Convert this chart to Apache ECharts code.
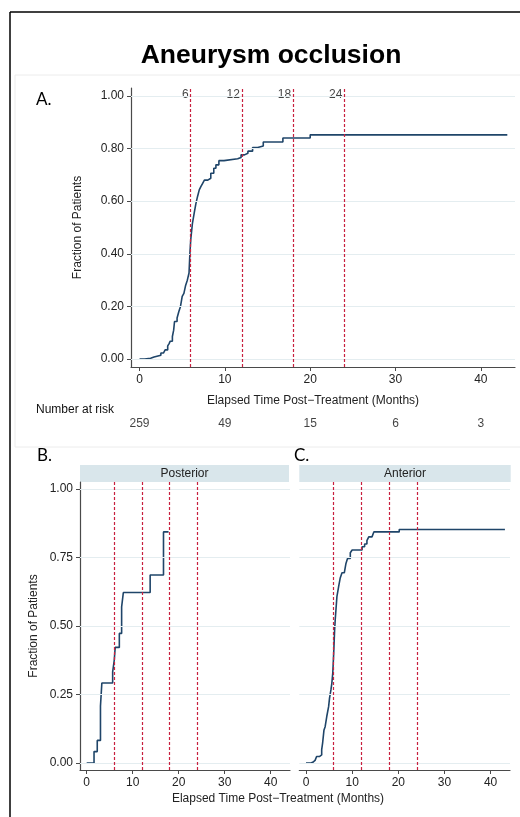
<!DOCTYPE html>
<html>
<head>
<meta charset="utf-8">
<title>Aneurysm occlusion</title>
<script src="https://cdn.jsdelivr.net/npm/echarts@6/dist/echarts.min.js"></script>
<style>
    html, body { margin: 0; padding: 0; background: #fff; }
    #chart { width: 520px; height: 817px; }
</style>
</head>
<body>
<div id="chart"></div>
<script>
    // time cut-offs (months) drawn as dashed lines
    const cutoffs = [6, 12, 18, 24];
    const xTicks = [0, 10, 20, 30, 40];
    const yTicksA = [0, 0.2, 0.4, 0.6, 0.8, 1];
    const yTicksB = [0, 0.25, 0.5, 0.75, 1];

    // number at risk under panel A
    const riskTimes = [0, 10, 20, 30, 40];
    const riskCounts = [259, 49, 15, 6, 3];

    // cumulative fraction occluded, [month, fraction] - all aneurysms
    const allCurve = [
        [0, 0], [0.6, 0.003], [1.3, 0.008], [1.7, 0.015], [2.5, 0.023], [2.8, 0.03],
        [3.0, 0.035], [3.3, 0.05], [3.45, 0.058], [3.6, 0.068], [3.85, 0.086], [4.0, 0.11],
        [4.1, 0.143], [4.4, 0.156], [4.6, 0.18], [4.8, 0.2], [5.0, 0.238], [5.2, 0.25],
        [5.4, 0.28], [5.6, 0.30], [5.8, 0.327], [5.9, 0.40], [6.0, 0.453], [6.2, 0.516],
        [6.4, 0.554], [6.6, 0.59], [6.8, 0.618], [7.0, 0.643], [7.2, 0.656], [7.4, 0.668],
        [7.6, 0.68], [8.0, 0.687], [8.35, 0.706], [8.7, 0.725], [8.95, 0.738], [9.3, 0.754],
        [9.9, 0.761], [11.5, 0.766], [11.9, 0.776], [12.3, 0.782], [12.7, 0.79], [13.25, 0.804],
        [13.85, 0.81], [14.5, 0.825], [16.8, 0.840], [20.0, 0.852], [43.1, 0.852]
    ];

    // posterior circulation
    const posteriorCurve = [
        [0, 0], [1.6, 0.042], [2.3, 0.083], [3.0, 0.208], [3.3, 0.292], [5.65, 0.333],
        [6.0, 0.376], [6.2, 0.422], [7.1, 0.473], [7.6, 0.57], [7.97, 0.622], [13.8, 0.686],
        [16.7, 0.843], [17.8, 0.843]
    ];

    // anterior circulation
    const anteriorCurve = [
        [0, 0], [0.87, 0.003], [1.46, 0.01], [1.97, 0.015], [2.3, 0.024], [2.9, 0.03],
        [3.4, 0.049], [3.6, 0.073], [3.9, 0.121], [4.15, 0.133], [4.5, 0.17], [4.9, 0.206],
        [5.1, 0.237], [5.4, 0.267], [5.6, 0.291], [5.8, 0.328], [6.0, 0.40], [6.2, 0.485],
        [6.33, 0.522], [6.7, 0.607], [7.06, 0.643], [7.4, 0.674], [7.8, 0.694], [8.3, 0.698],
        [8.66, 0.728], [9.0, 0.746], [9.6, 0.767], [10.0, 0.777], [12.15, 0.789], [12.7, 0.799],
        [13.2, 0.811], [13.6, 0.825], [14.3, 0.831], [14.7, 0.843], [20.2, 0.852], [43.1, 0.852]
    ];

    const FONT = 'Liberation Sans';
    const LINE = '#1f4569';
    const DASH = '#c8203f';
    const AXIS = '#4a4a4a';
    const GRIDLINE = '#e4edf0';

    function xAxisOf(gridIndex, min, max, opts) {
        return Object.assign({
            type: 'value', gridIndex: gridIndex, min: min, max: max,
            axisLine: {show: true, onZero: false, lineStyle: {color: AXIS, width: 1.2}},
            axisTick: {show: true, length: 4, customValues: xTicks, lineStyle: {color: AXIS}},
            axisLabel: {show: true, customValues: xTicks, color: '#222', fontFamily: FONT, fontSize: 12, margin: 7},
            splitLine: {show: false}
        }, opts || {});
    }

    function yAxisOf(gridIndex, min, max, ticks, digits, opts) {
        return Object.assign({
            type: 'value', gridIndex: gridIndex, min: min, max: max,
            axisLine: {show: true, onZero: false, lineStyle: {color: AXIS, width: 1.2}},
            axisTick: {show: true, length: 4, customValues: ticks, lineStyle: {color: AXIS}},
            axisLabel: {
                show: true, customValues: ticks, color: '#222', fontFamily: FONT, fontSize: 12, margin: 7,
                formatter: v => v.toFixed(digits)
            },
            splitLine: {show: false}
        }, opts || {});
    }

    function curveSeries(data, axisIndex) {
        return {
            type: 'line', step: 'end', data: data, xAxisIndex: axisIndex, yAxisIndex: axisIndex,
            symbol: 'none', lineStyle: {color: LINE, width: 1.6}, z: 3,
            markLine: {
                silent: true, symbol: ['none', 'none'], label: {show: false},
                lineStyle: {color: DASH, width: 1.2, type: [3, 2]},
                data: cutoffs.map(c => ({xAxis: c}))
            }
        };
    }

    // horizontal background lines at the y ticks
    function gridLines(ticks, axisIndex) {
        return {
            type: 'line', data: [], xAxisIndex: axisIndex, yAxisIndex: axisIndex, z: 1,
            markLine: {
                silent: true, symbol: ['none', 'none'], label: {show: false},
                lineStyle: {color: GRIDLINE, width: 1, type: 'solid'},
                data: ticks.map(v => ({yAxis: v}))
            }
        };
    }

    const textStyle = (txt, size, weight, family) => ({
        text: txt, fill: '#000', font: (weight || 'normal') + ' ' + size + 'px "' + (family || FONT) + '"'
    });

    const chart = echarts.init(document.getElementById('chart'));
    const option = {
        animation: false,
        grid: [
            {left: 131, top: 88, width: 384, height: 279},
            {left: 80, top: 482, width: 210, height: 288},
            {left: 299.3, top: 482, width: 210.7, height: 288},
            {left: 131, top: 417, width: 384, height: 14}
        ],
        xAxis: [
            xAxisOf(0, -1, 44, {
                name: 'Elapsed Time Post\u2212Treatment (Months)', nameLocation: 'middle', nameGap: 28,
                nameTextStyle: {color: '#222', fontFamily: FONT, fontSize: 12, padding: [0, 20, 0, 0]}
            }),
            xAxisOf(1, -1.45, 44.2),
            xAxisOf(2, -1.45, 44.2),
            {type: 'value', gridIndex: 3, min: -1, max: 44, show: false}
        ],
        yAxis: [
            yAxisOf(0, -0.03, 1.03, yTicksA, 2, {
                name: 'Fraction of Patients', nameLocation: 'middle', nameGap: 47,
                nameTextStyle: {color: '#222', fontFamily: FONT, fontSize: 12}
            }),
            yAxisOf(1, -0.025, 1.025, yTicksB, 2, {
                name: 'Fraction of Patients', nameLocation: 'middle', nameGap: 40,
                nameTextStyle: {color: '#222', fontFamily: FONT, fontSize: 12}
            }),
            yAxisOf(2, -0.025, 1.025, yTicksB, 2, {
                axisLine: {show: false}, axisTick: {show: false}, axisLabel: {show: false}
            }),
            {type: 'value', gridIndex: 3, min: 0, max: 1, show: false}
        ],
        series: [
            gridLines(yTicksA, 0),
            gridLines(yTicksB, 1),
            gridLines(yTicksB, 2),
            curveSeries(allCurve, 0),
            curveSeries(posteriorCurve, 1),
            curveSeries(anteriorCurve, 2),
            // month labels above the dashed lines in panel A
            {
                type: 'scatter', xAxisIndex: 0, yAxisIndex: 0, symbolSize: 0,
                data: cutoffs.map(c => [c, 1.005]),
                label: {
                    show: true, position: 'left', distance: 2, formatter: p => p.data[0],
                    color: '#111', fontFamily: FONT, fontSize: 12
                }
            },
            // number at risk row
            {
                type: 'scatter', xAxisIndex: 3, yAxisIndex: 3, symbolSize: 0,
                data: riskTimes.map((t, i) => [t, 0.5, riskCounts[i]]),
                label: {
                    show: true, position: 'inside', formatter: p => p.data[2],
                    color: '#111', fontFamily: FONT, fontSize: 12
                }
            }
        ],
        graphic: [
            // outer frame
            {type: 'line', shape: {x1: 10, y1: 12, x2: 10, y2: 817}, style: {stroke: '#000', lineWidth: 1.5}},
            {type: 'line', shape: {x1: 10, y1: 12, x2: 520, y2: 12}, style: {stroke: '#000', lineWidth: 1.5}},
            // panel A box
            {type: 'rect', shape: {x: 15, y: 75, width: 520, height: 372}, style: {fill: 'none', stroke: '#ececec', lineWidth: 1}, z: -1},
            {type: 'text', x: 271, y: 56, style: Object.assign(textStyle('Aneurysm occlusion', 26.5, 'bold'), {textAlign: 'center', textVerticalAlign: 'middle'})},
            {type: 'text', x: 36, y: 100, style: Object.assign(textStyle('A.', 17, 'normal', 'Lato'), {textVerticalAlign: 'middle'})},
            {type: 'text', x: 36, y: 410, style: Object.assign(textStyle('Number at risk', 12), {fill: '#111', textVerticalAlign: 'middle'})},
            {type: 'text', x: 37, y: 456, style: Object.assign(textStyle('B.', 17, 'normal', 'Lato'), {textVerticalAlign: 'middle'})},
            {type: 'text', x: 294, y: 456, style: Object.assign(textStyle('C.', 17, 'normal', 'Lato'), {textVerticalAlign: 'middle'})},
            // facet strips
            {type: 'rect', shape: {x: 80, y: 465, width: 209, height: 17}, style: {fill: '#d9e6eb'}},
            {type: 'rect', shape: {x: 299.3, y: 465, width: 211.4, height: 17}, style: {fill: '#d9e6eb'}},
            {type: 'text', x: 184.5, y: 473.5, style: Object.assign(textStyle('Posterior', 12), {fill: '#222', textAlign: 'center', textVerticalAlign: 'middle'})},
            {type: 'text', x: 405, y: 473.5, style: Object.assign(textStyle('Anterior', 12), {fill: '#222', textAlign: 'center', textVerticalAlign: 'middle'})},
            {type: 'text', x: 278, y: 799, style: Object.assign(textStyle('Elapsed Time Post\u2212Treatment (Months)', 12), {fill: '#222', textAlign: 'center', textVerticalAlign: 'middle'})}
        ]
    };
    chart.setOption(option);
</script>
</body>
</html>
